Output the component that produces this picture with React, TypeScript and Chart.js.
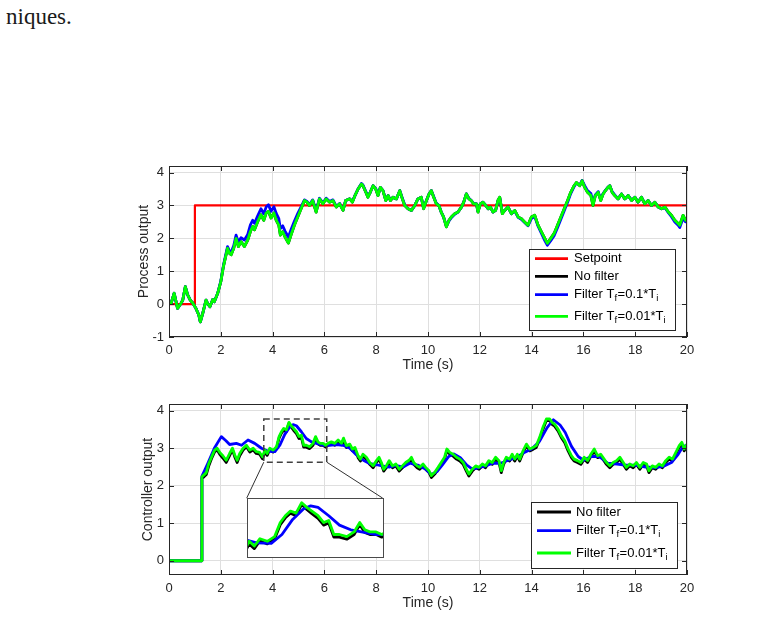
import { useEffect, useRef } from "react";
import { Chart, registerables } from "chart.js";

Chart.register(...registerables);

type Pt = [number, number];
type Seg = [string, boolean]; // text, drawn as subscript

// ---- axes ----
const timeTicks = [0, 2, 4, 6, 8, 10, 12, 14, 16, 18, 20];
const processTicks = [-1, 0, 1, 2, 3, 4];
const controllerTicks = [0, 1, 2, 3, 4];

// ---- process output (t [s], y) ----
const setpoint: Pt[] = [[0, 0], [1, 0], [1, 3], [20, 3]];

const processFast: Pt[] = [
  [0, 0.04], [0.08, 0.02], [0.2, 0.33], [0.33, -0.13], [0.46, 0.02], [0.53, 0.12], [0.63, 0.53], [0.72, 0.28],
  [0.82, 0.12], [0.91, 0.04], [1.04, -0.13], [1.15, -0.33], [1.21, -0.54], [1.3, -0.29], [1.43, 0.12], [1.49, 0.02],
  [1.58, -0.08], [1.69, 0.14], [1.75, 0.07], [1.88, 0.33], [2.0, 0.68], [2.1, 1.14], [2.26, 1.7], [2.33, 1.55],
  [2.4, 1.5], [2.5, 1.7], [2.59, 2.0], [2.68, 1.75], [2.78, 1.9], [2.91, 1.75], [3.04, 1.95], [3.14, 2.2],
  [3.23, 2.36], [3.3, 2.26], [3.42, 2.5], [3.55, 2.72], [3.66, 2.55], [3.75, 2.77], [3.84, 2.82], [3.94, 2.62],
  [4.05, 2.77], [4.14, 2.55], [4.24, 2.4], [4.3, 2.1], [4.39, 2.2], [4.48, 2.04], [4.61, 1.86], [4.71, 2.1],
  [4.84, 2.4], [4.97, 2.65], [5.1, 2.9], [5.23, 3.15], [5.33, 3.1], [5.42, 3.0], [5.55, 3.15], [5.68, 2.8],
  [5.81, 3.2], [5.94, 3.05], [6.07, 3.2], [6.2, 3.1], [6.33, 3.15], [6.46, 2.95], [6.59, 3.05], [6.72, 2.85],
  [6.82, 3.15], [6.98, 3.2], [7.08, 3.1], [7.18, 3.3], [7.3, 3.5], [7.43, 3.65], [7.49, 3.6], [7.6, 3.4],
  [7.68, 3.25], [7.77, 3.4], [7.88, 3.6], [7.98, 3.5], [8.07, 3.3], [8.16, 3.55], [8.26, 3.45], [8.37, 3.15],
  [8.46, 3.3], [8.55, 3.15], [8.65, 3.25], [8.78, 3.2], [8.91, 3.45], [9.01, 3.2], [9.1, 3.0], [9.23, 2.9],
  [9.36, 2.85], [9.49, 3.0], [9.61, 3.2], [9.74, 3.25], [9.83, 2.9], [9.94, 3.15], [10.04, 3.35], [10.13, 3.45],
  [10.22, 3.25], [10.32, 3.05], [10.42, 3.0], [10.51, 2.8], [10.6, 2.65], [10.71, 2.35], [10.81, 2.55], [10.9, 2.65],
  [11.03, 2.75], [11.16, 2.8], [11.29, 2.95], [11.38, 3.1], [11.48, 3.35], [11.58, 3.2], [11.67, 3.15], [11.76, 3.05],
  [11.87, 3.05], [11.93, 2.8], [12.02, 3.05], [12.12, 3.1], [12.23, 3.0], [12.32, 2.9], [12.41, 2.95], [12.51, 2.8],
  [12.61, 2.85], [12.7, 3.15], [12.77, 3.25], [12.87, 2.75], [12.96, 2.85], [13.09, 2.95], [13.22, 2.75], [13.35, 2.85],
  [13.48, 2.65], [13.6, 2.6], [13.73, 2.5], [13.86, 2.4], [13.99, 2.65], [14.12, 2.7], [14.25, 2.4], [14.38, 2.2],
  [14.51, 2.0], [14.61, 1.85], [14.74, 2.0], [14.87, 2.15], [15.0, 2.4], [15.13, 2.65], [15.26, 2.9], [15.39, 3.15],
  [15.51, 3.4], [15.64, 3.6], [15.73, 3.7], [15.86, 3.6], [15.95, 3.75], [16.05, 3.55], [16.16, 3.4], [16.29, 3.3],
  [16.37, 3.0], [16.46, 3.3], [16.57, 3.4], [16.67, 3.15], [16.76, 3.35], [16.85, 3.45], [16.95, 3.55], [17.02, 3.6],
  [17.11, 3.4], [17.21, 3.3], [17.34, 3.2], [17.47, 3.35], [17.6, 3.2], [17.73, 3.3], [17.86, 3.15], [17.99, 3.25],
  [18.11, 3.1], [18.24, 3.25], [18.37, 3.05], [18.5, 3.15], [18.63, 3.0], [18.76, 3.1], [18.89, 2.95], [19.02, 2.9],
  [19.15, 2.95], [19.28, 2.8], [19.4, 2.7], [19.53, 2.55], [19.66, 2.45], [19.72, 2.4], [19.85, 2.7], [19.94, 2.55],
  [20, 2.6],
];

// The unfiltered response runs underneath the Tf = 0.01*Ti response.
const processNoFilter: Pt[] = processFast;

const processMedium: Pt[] = [
  [0, 0.04], [0.08, 0.02], [0.2, 0.33], [0.33, -0.13], [0.46, 0.02], [0.53, 0.12], [0.63, 0.53], [0.72, 0.28],
  [0.82, 0.12], [0.91, 0.04], [1.04, -0.13], [1.15, -0.33], [1.21, -0.54], [1.3, -0.29], [1.43, 0.12], [1.49, 0.02],
  [1.58, -0.08], [1.69, 0.14], [1.75, 0.07], [1.88, 0.33], [2.0, 0.7], [2.1, 1.17], [2.26, 1.75], [2.33, 1.62],
  [2.4, 1.58], [2.5, 1.78], [2.59, 2.1], [2.68, 1.88], [2.78, 2.02], [2.91, 1.95], [3.04, 2.12], [3.14, 2.4],
  [3.23, 2.55], [3.3, 2.46], [3.42, 2.68], [3.55, 2.9], [3.66, 2.75], [3.75, 2.95], [3.84, 3.02], [3.94, 2.82],
  [4.05, 2.96], [4.14, 2.76], [4.24, 2.6], [4.3, 2.3], [4.39, 2.38], [4.48, 2.22], [4.61, 2.04], [4.71, 2.26],
  [4.84, 2.52], [4.97, 2.75], [5.1, 2.96], [5.23, 3.17], [5.33, 3.12], [5.42, 3.02], [5.55, 3.17], [5.68, 2.84],
  [5.81, 3.22], [5.94, 3.08], [6.07, 3.22], [6.2, 3.12], [6.33, 3.17], [6.46, 2.97], [6.59, 3.06], [6.72, 2.87],
  [6.82, 3.15], [6.98, 3.2], [7.08, 3.12], [7.18, 3.3], [7.3, 3.5], [7.43, 3.67], [7.49, 3.62], [7.6, 3.42],
  [7.68, 3.27], [7.77, 3.4], [7.88, 3.6], [7.98, 3.52], [8.07, 3.32], [8.16, 3.55], [8.26, 3.46], [8.37, 3.17],
  [8.46, 3.3], [8.55, 3.16], [8.65, 3.25], [8.78, 3.2], [8.91, 3.45], [9.01, 3.22], [9.1, 3.02], [9.23, 2.9],
  [9.36, 2.85], [9.49, 3.0], [9.61, 3.2], [9.74, 3.25], [9.83, 2.92], [9.94, 3.15], [10.04, 3.35], [10.13, 3.45],
  [10.22, 3.27], [10.32, 3.07], [10.42, 3.0], [10.51, 2.8], [10.6, 2.65], [10.71, 2.37], [10.81, 2.53], [10.9, 2.63],
  [11.03, 2.73], [11.16, 2.8], [11.29, 2.95], [11.38, 3.1], [11.48, 3.35], [11.58, 3.22], [11.67, 3.15], [11.76, 3.06],
  [11.87, 3.05], [11.93, 2.82], [12.02, 3.05], [12.12, 3.1], [12.23, 3.0], [12.32, 2.9], [12.41, 2.95], [12.51, 2.8],
  [12.61, 2.85], [12.7, 3.13], [12.77, 3.23], [12.87, 2.77], [12.96, 2.85], [13.09, 2.95], [13.22, 2.75], [13.35, 2.83],
  [13.48, 2.64], [13.6, 2.58], [13.73, 2.48], [13.86, 2.38], [13.99, 2.6], [14.12, 2.66], [14.25, 2.37], [14.38, 2.15],
  [14.51, 1.93], [14.61, 1.79], [14.74, 1.93], [14.87, 2.08], [15.0, 2.32], [15.13, 2.58], [15.26, 2.84], [15.39, 3.1],
  [15.51, 3.36], [15.64, 3.57], [15.73, 3.68], [15.86, 3.62], [15.95, 3.76], [16.05, 3.6], [16.16, 3.45], [16.29, 3.36],
  [16.37, 3.06], [16.46, 3.32], [16.57, 3.42], [16.67, 3.18], [16.76, 3.36], [16.85, 3.46], [16.95, 3.56], [17.02, 3.6],
  [17.11, 3.42], [17.21, 3.32], [17.34, 3.2], [17.47, 3.35], [17.6, 3.2], [17.73, 3.3], [17.86, 3.16], [17.99, 3.25],
  [18.11, 3.1], [18.24, 3.25], [18.37, 3.06], [18.5, 3.15], [18.63, 3.0], [18.76, 3.1], [18.89, 2.95], [19.02, 2.9],
  [19.15, 2.93], [19.28, 2.78], [19.4, 2.66], [19.53, 2.5], [19.66, 2.4], [19.72, 2.33], [19.85, 2.62], [19.94, 2.5],
  [20, 2.55],
];

// ---- controller output (t [s], u) ----
const controllerFast: Pt[] = [
  [0, 0], [1.27, 0], [1.27, 2.24], [1.35, 2.29], [1.44, 2.35], [1.53, 2.58], [1.64, 2.76], [1.76, 2.95],
  [1.86, 3.0], [1.96, 2.89], [2.08, 2.8], [2.21, 2.68], [2.34, 2.86], [2.45, 3.0], [2.54, 2.82], [2.63, 2.68],
  [2.73, 2.86], [2.86, 3.0], [2.99, 3.08], [3.12, 2.95], [3.25, 3.0], [3.37, 2.91], [3.5, 2.89], [3.61, 2.77],
  [3.7, 2.95], [3.79, 2.86], [3.89, 3.0], [4.02, 2.95], [4.15, 3.04], [4.25, 3.31], [4.34, 3.44], [4.43, 3.53],
  [4.53, 3.49], [4.63, 3.69], [4.72, 3.6], [4.81, 3.53], [4.92, 3.44], [5.02, 3.31], [5.11, 3.35], [5.2, 3.08],
  [5.3, 3.08], [5.43, 3.04], [5.56, 3.13], [5.66, 3.31], [5.75, 3.17], [5.84, 3.13], [5.95, 3.13], [6.05, 3.08],
  [6.14, 3.13], [6.27, 3.17], [6.4, 3.13], [6.53, 3.22], [6.66, 3.13], [6.74, 3.27], [6.85, 3.07], [6.98, 3.11],
  [7.08, 2.98], [7.18, 3.02], [7.3, 2.8], [7.39, 2.71], [7.49, 2.84], [7.62, 2.76], [7.75, 2.62], [7.88, 2.53],
  [8.01, 2.67], [8.11, 2.76], [8.2, 2.62], [8.29, 2.44], [8.39, 2.53], [8.5, 2.67], [8.63, 2.53], [8.76, 2.58],
  [8.89, 2.44], [9.01, 2.53], [9.14, 2.62], [9.27, 2.68], [9.36, 2.76], [9.45, 2.62], [9.58, 2.53], [9.68, 2.49],
  [9.81, 2.58], [9.91, 2.49], [10.04, 2.4], [10.13, 2.27], [10.26, 2.36], [10.39, 2.49], [10.51, 2.62], [10.64, 2.76],
  [10.73, 2.98], [10.84, 2.89], [10.97, 2.84], [11.1, 2.76], [11.23, 2.71], [11.36, 2.62], [11.48, 2.44], [11.58, 2.31],
  [11.71, 2.44], [11.84, 2.53], [11.97, 2.49], [12.1, 2.58], [12.22, 2.53], [12.35, 2.67], [12.48, 2.62], [12.61, 2.76],
  [12.74, 2.67], [12.83, 2.4], [12.92, 2.62], [13.02, 2.76], [13.15, 2.71], [13.25, 2.84], [13.35, 2.71], [13.45, 2.84],
  [13.54, 2.71], [13.67, 2.93], [13.8, 3.11], [13.93, 2.98], [14.05, 3.02], [14.18, 3.07], [14.31, 3.29], [14.44, 3.56],
  [14.57, 3.78], [14.7, 3.78], [14.79, 3.69], [14.89, 3.64], [15.02, 3.51], [15.15, 3.33], [15.28, 3.2], [15.41, 2.98],
  [15.54, 2.8], [15.64, 2.71], [15.77, 2.67], [15.9, 2.62], [16.03, 2.76], [16.16, 2.67], [16.29, 2.84], [16.42, 2.98],
  [16.55, 2.8], [16.67, 2.84], [16.8, 2.71], [16.89, 2.62], [17.02, 2.53], [17.15, 2.62], [17.28, 2.67], [17.41, 2.76],
  [17.54, 2.62], [17.66, 2.49], [17.79, 2.58], [17.92, 2.53], [18.05, 2.62], [18.18, 2.49], [18.31, 2.62], [18.44, 2.58],
  [18.53, 2.4], [18.66, 2.53], [18.79, 2.49], [18.92, 2.58], [19.05, 2.53], [19.18, 2.67], [19.31, 2.76], [19.44, 2.71],
  [19.57, 2.89], [19.7, 3.07], [19.8, 3.16], [19.89, 2.98], [20, 3.11],
];

const controllerNoFilter: Pt[] = [
  [0, 0], [1.27, 0], [1.27, 2.2], [1.35, 2.24], [1.44, 2.3], [1.53, 2.52], [1.64, 2.72], [1.76, 2.9],
  [1.86, 2.96], [1.96, 2.84], [2.08, 2.74], [2.21, 2.62], [2.34, 2.8], [2.45, 2.96], [2.54, 2.77], [2.63, 2.62],
  [2.73, 2.8], [2.86, 2.95], [2.99, 3.04], [3.12, 2.9], [3.25, 2.96], [3.37, 2.86], [3.5, 2.84], [3.61, 2.72],
  [3.7, 2.9], [3.79, 2.81], [3.89, 2.96], [4.02, 2.9], [4.15, 3.0], [4.25, 3.27], [4.34, 3.4], [4.43, 3.49],
  [4.53, 3.44], [4.63, 3.66], [4.72, 3.56], [4.81, 3.48], [4.92, 3.39], [5.02, 3.26], [5.11, 3.3], [5.2, 3.03],
  [5.3, 3.03], [5.43, 2.99], [5.56, 3.08], [5.66, 3.27], [5.75, 3.12], [5.84, 3.08], [5.95, 3.08], [6.05, 3.03],
  [6.14, 3.08], [6.27, 3.12], [6.4, 3.08], [6.53, 3.18], [6.66, 3.09], [6.74, 3.23], [6.85, 3.02], [6.98, 3.06],
  [7.08, 2.93], [7.18, 2.97], [7.3, 2.75], [7.39, 2.66], [7.49, 2.79], [7.62, 2.71], [7.75, 2.57], [7.88, 2.48],
  [8.01, 2.62], [8.11, 2.71], [8.2, 2.57], [8.29, 2.39], [8.39, 2.48], [8.5, 2.62], [8.63, 2.48], [8.76, 2.53],
  [8.89, 2.39], [9.01, 2.48], [9.14, 2.57], [9.27, 2.63], [9.36, 2.71], [9.45, 2.57], [9.58, 2.48], [9.68, 2.44],
  [9.81, 2.53], [9.91, 2.44], [10.04, 2.35], [10.13, 2.22], [10.26, 2.31], [10.39, 2.44], [10.51, 2.57], [10.64, 2.71],
  [10.73, 2.94], [10.84, 2.84], [10.97, 2.79], [11.1, 2.71], [11.23, 2.66], [11.36, 2.57], [11.48, 2.39], [11.58, 2.26],
  [11.71, 2.39], [11.84, 2.48], [11.97, 2.44], [12.1, 2.53], [12.22, 2.48], [12.35, 2.62], [12.48, 2.57], [12.61, 2.71],
  [12.74, 2.62], [12.83, 2.35], [12.92, 2.57], [13.02, 2.71], [13.15, 2.66], [13.25, 2.79], [13.35, 2.66], [13.45, 2.79],
  [13.54, 2.66], [13.67, 2.88], [13.8, 3.06], [13.93, 2.93], [14.05, 2.97], [14.18, 3.02], [14.31, 3.24], [14.44, 3.51],
  [14.57, 3.74], [14.7, 3.74], [14.79, 3.64], [14.89, 3.59], [15.02, 3.46], [15.15, 3.28], [15.28, 3.15], [15.41, 2.93],
  [15.54, 2.75], [15.64, 2.66], [15.77, 2.62], [15.9, 2.57], [16.03, 2.71], [16.16, 2.62], [16.29, 2.79], [16.42, 2.93],
  [16.55, 2.75], [16.67, 2.79], [16.8, 2.66], [16.89, 2.57], [17.02, 2.48], [17.15, 2.57], [17.28, 2.62], [17.41, 2.71],
  [17.54, 2.57], [17.66, 2.44], [17.79, 2.53], [17.92, 2.48], [18.05, 2.57], [18.18, 2.44], [18.31, 2.57], [18.44, 2.53],
  [18.53, 2.35], [18.66, 2.48], [18.79, 2.44], [18.92, 2.53], [19.05, 2.48], [19.18, 2.62], [19.31, 2.71], [19.44, 2.66],
  [19.57, 2.84], [19.7, 3.02], [19.8, 3.11], [19.89, 2.93], [20, 3.06],
];

const controllerMedium: Pt[] = [
  [0, 0], [1.27, 0], [1.27, 2.25], [1.5, 2.6], [1.75, 3.0], [2.02, 3.31], [2.2, 3.2], [2.34, 3.1],
  [2.6, 3.13], [2.8, 3.08], [3.05, 3.22], [3.31, 3.13], [3.57, 3.0], [3.83, 2.92], [4.09, 2.91], [4.28, 3.08],
  [4.47, 3.37], [4.66, 3.57], [4.79, 3.63], [4.92, 3.6], [5.11, 3.44], [5.3, 3.26], [5.5, 3.17], [5.69, 3.13],
  [5.95, 3.08], [6.2, 3.08], [6.46, 3.1], [6.72, 3.08], [6.98, 3.0], [7.24, 2.82], [7.5, 2.68], [7.76, 2.59],
  [8.02, 2.56], [8.27, 2.52], [8.53, 2.5], [8.79, 2.54], [9.04, 2.5], [9.3, 2.6], [9.6, 2.55], [9.9, 2.45],
  [10.13, 2.3], [10.35, 2.38], [10.55, 2.55], [10.8, 2.78], [11.0, 2.85], [11.25, 2.75], [11.5, 2.55], [11.7, 2.45],
  [11.95, 2.48], [12.2, 2.52], [12.5, 2.6], [12.8, 2.6], [13.1, 2.68], [13.4, 2.75], [13.7, 2.88], [14.0, 2.98],
  [14.3, 3.18], [14.6, 3.55], [14.84, 3.76], [15.1, 3.62], [15.3, 3.42], [15.54, 3.05], [15.8, 2.78], [16.0, 2.68],
  [16.3, 2.78], [16.6, 2.78], [16.95, 2.6], [17.3, 2.58], [17.6, 2.55], [18.0, 2.55], [18.4, 2.5], [18.8, 2.48],
  [19.1, 2.52], [19.4, 2.62], [19.66, 2.84], [19.85, 3.05], [20, 3.08],
];

// ---- zoomed detail: the window (t, u) and where its magnified copy sits ----
const zoomWindow = { t0: 3.66, t1: 6.09, u0: 2.63, u1: 3.78 };
const insetPlacement = { t0: 3.0, t1: 8.25, u0: 0.1, u1: 1.67 };

// ---- legend labels ----
const labelSetpoint: Seg[] = [["Setpoint", false]];
const labelNoFilter: Seg[] = [["No filter", false]];
const labelMedium: Seg[] = [["Filter T", false], ["f", true], ["=0.1*T", false], ["i", true]];
const labelFast: Seg[] = [["Filter T", false], ["f", true], ["=0.01*T", false], ["i", true]];

const RED = "#ff0000";
const BLACK = "#000000";
const BLUE = "#0000ff";
const GREEN = "#00ff00";
const INK = "#262626";
const GRID = "#dfdfdf";
const SANS = "'Liberation Sans', Arial, Helvetica, sans-serif";
const LINE_W = 2.8;

Chart.defaults.font.family = SANS;

const xy = (pts: Pt[]) => pts.map(([x, y]) => ({ x, y }));

function series(label: string, pts: Pt[], color: string, order: number, width = LINE_W) {
  return {
    label,
    data: xy(pts),
    borderColor: color,
    backgroundColor: color,
    borderWidth: width,
    pointRadius: 0,
    tension: 0,
    borderJoinStyle: "round" as const,
    borderCapStyle: "round" as const,
    order,
  };
}

type LegendSpec = {
  right: number;
  bottom: number;
  width: number;
  height: number;
  rows: number[];
  lineX0: number;
  lineX1: number;
  textX: number;
  entries: { color: string; segs: Seg[] }[];
};

function drawSegs(ctx: CanvasRenderingContext2D, segs: Seg[], x: number, y: number) {
  let cx = x;
  for (const [text, sub] of segs) {
    ctx.font = sub ? `9.5px ${SANS}` : `13px ${SANS}`;
    ctx.fillText(text, cx, sub ? y + 4 : y);
    cx += ctx.measureText(text).width + (sub ? 0.5 : 0);
  }
}

function framePlugin(legend: LegendSpec, withZoom: boolean) {
  return {
    id: "frame",
    afterDatasetsDraw(chart: any) {
      const { ctx, chartArea: a, scales } = chart;
      const xs = scales.x;
      const ys = scales.y;
      ctx.save();

      // zoom window and its leader lines
      if (withZoom) {
        const zx0 = xs.getPixelForValue(zoomWindow.t0);
        const zx1 = xs.getPixelForValue(zoomWindow.t1);
        const zy0 = ys.getPixelForValue(zoomWindow.u1);
        const zy1 = ys.getPixelForValue(zoomWindow.u0);
        const ix0 = xs.getPixelForValue(insetPlacement.t0);
        const ix1 = xs.getPixelForValue(insetPlacement.t1);
        const iy0 = ys.getPixelForValue(insetPlacement.u1);
        ctx.strokeStyle = "#303030";
        ctx.lineWidth = 1;
        ctx.setLineDash([]);
        ctx.beginPath();
        ctx.moveTo(zx0, zy1);
        ctx.lineTo(ix0, iy0);
        ctx.moveTo(zx1, zy1);
        ctx.lineTo(ix1, iy0);
        ctx.stroke();
        ctx.strokeStyle = "#404040";
        ctx.lineWidth = 1.5;
        ctx.setLineDash([6, 4]);
        ctx.strokeRect(zx0, zy0, zx1 - zx0, zy1 - zy0);
        ctx.setLineDash([]);
      }

      // axes box with inward ticks
      ctx.strokeStyle = INK;
      ctx.lineWidth = 1;
      ctx.strokeRect(a.left + 0.5, a.top + 0.5, a.right - a.left - 1, a.bottom - a.top - 1);
      const tl = 5;
      ctx.beginPath();
      for (const t of xs.ticks) {
        const px = Math.round(xs.getPixelForValue(t.value)) + 0.5;
        ctx.moveTo(px, a.bottom);
        ctx.lineTo(px, a.bottom - tl);
        ctx.moveTo(px, a.top);
        ctx.lineTo(px, a.top + tl);
      }
      for (const t of ys.ticks) {
        const py = Math.round(ys.getPixelForValue(t.value)) + 0.5;
        ctx.moveTo(a.left, py);
        ctx.lineTo(a.left + tl, py);
        ctx.moveTo(a.right, py);
        ctx.lineTo(a.right - tl, py);
      }
      ctx.stroke();

      // legend
      const bx = Math.round(a.right - legend.right - legend.width);
      const by = Math.round(a.bottom - legend.bottom - legend.height);
      ctx.fillStyle = "#ffffff";
      ctx.fillRect(bx, by, legend.width, legend.height);
      ctx.strokeStyle = INK;
      ctx.lineWidth = 1;
      ctx.strokeRect(bx + 0.5, by + 0.5, legend.width, legend.height);
      legend.entries.forEach((e, i) => {
        const y = by + legend.rows[i];
        ctx.strokeStyle = e.color;
        ctx.lineWidth = LINE_W;
        ctx.beginPath();
        ctx.moveTo(bx + legend.lineX0, y);
        ctx.lineTo(bx + legend.lineX1, y);
        ctx.stroke();
        ctx.fillStyle = "#000000";
        ctx.textBaseline = "middle";
        ctx.textAlign = "left";
        drawSegs(ctx, e.segs, bx + legend.textX, y);
      });
      ctx.restore();
    },
  };
}

function axes(yMin: number, yMax: number, yTicks: number[], yTitle: string, yTitlePad: number) {
  return {
    x: {
      type: "linear" as const,
      min: 0,
      max: 20,
      afterBuildTicks: (s: any) => {
        s.ticks = timeTicks.map((value) => ({ value }));
      },
      afterFit: (s: any) => {
        s.height = 43;
      },
      grid: { color: GRID, lineWidth: 1, drawTicks: false },
      border: { display: false },
      ticks: {
        padding: 6,
        color: INK,
        autoSkip: false,
        maxRotation: 0,
        font: { family: SANS, size: 13 },
        callback: (v: any) => String(v),
      },
      title: {
        display: true,
        text: "Time (s)",
        color: INK,
        font: { family: SANS, size: 14 },
        padding: { top: 0, bottom: 6 },
      },
    },
    y: {
      type: "linear" as const,
      min: yMin,
      max: yMax,
      afterBuildTicks: (s: any) => {
        s.ticks = yTicks.map((value) => ({ value }));
      },
      afterFit: (s: any) => {
        s.width = 39;
      },
      grid: { color: GRID, lineWidth: 1, drawTicks: false },
      border: { display: false },
      ticks: {
        padding: 5,
        color: INK,
        autoSkip: false,
        font: { family: SANS, size: 13 },
        callback: (v: any) => String(v),
      },
      title: {
        display: true,
        text: yTitle,
        color: INK,
        font: { family: SANS, size: 14 },
        padding: { top: yTitlePad, bottom: 0 },
      },
    },
  };
}

const baseOptions = {
  responsive: false,
  animation: false as const,
  events: [] as any[],
  plugins: { legend: { display: false }, tooltip: { enabled: false } },
};

export default function App() {
  const topRef = useRef<HTMLCanvasElement>(null);
  const bottomRef = useRef<HTMLCanvasElement>(null);
  const insetBoxRef = useRef<HTMLDivElement>(null);
  const insetRef = useRef<HTMLCanvasElement>(null);

  useEffect(() => {
    const top = new Chart(topRef.current as HTMLCanvasElement, {
      type: "line",
      data: {
        datasets: [
          series("Filter Tf=0.01*Ti", processFast, GREEN, 0),
          series("Filter Tf=0.1*Ti", processMedium, BLUE, 1),
          series("No filter", processNoFilter, BLACK, 2),
          series("Setpoint", setpoint, RED, 3, 2.2),
        ],
      },
      options: {
        ...baseOptions,
        layout: { padding: { left: 130, right: 77, top: 16, bottom: 0 } },
        scales: axes(-1, 4.2, processTicks, "Process output", 5.6),
      } as any,
      plugins: [
        framePlugin(
          {
            right: 12,
            bottom: 7,
            width: 146,
            height: 81,
            rows: [9.7, 27.4, 45.7, 67.4],
            lineX0: 6,
            lineX1: 39,
            textX: 45,
            entries: [
              { color: RED, segs: labelSetpoint },
              { color: BLACK, segs: labelNoFilter },
              { color: BLUE, segs: labelMedium },
              { color: GREEN, segs: labelFast },
            ],
          },
          false
        ),
      ],
    });

    const bottomCanvas = bottomRef.current as HTMLCanvasElement;
    const bottom = new Chart(bottomCanvas, {
      type: "line",
      data: {
        datasets: [
          series("Filter Tf=0.01*Ti", controllerFast, GREEN, 0),
          series("Filter Tf=0.1*Ti", controllerMedium, BLUE, 1),
          series("No filter", controllerNoFilter, BLACK, 2),
        ],
      },
      options: {
        ...baseOptions,
        layout: { padding: { left: 130, right: 77, top: 16, bottom: 0 } },
        scales: axes(-0.38, 4.18, controllerTicks, "Controller output", 9.6),
      } as any,
      plugins: [
        framePlugin(
          {
            right: 10,
            bottom: 7,
            width: 146,
            height: 66,
            rows: [10, 28.7, 51],
            lineX0: 6,
            lineX1: 40,
            textX: 45,
            entries: [
              { color: BLACK, segs: labelNoFilter },
              { color: BLUE, segs: labelMedium },
              { color: GREEN, segs: labelFast },
            ],
          },
          true
        ),
      ],
    });

    // place the magnified view where the leader lines end
    const xs: any = bottom.scales.x;
    const ys: any = bottom.scales.y;
    const left = Math.round(xs.getPixelForValue(insetPlacement.t0));
    const right = Math.round(xs.getPixelForValue(insetPlacement.t1));
    const topPx = Math.round(ys.getPixelForValue(insetPlacement.u1));
    const botPx = Math.round(ys.getPixelForValue(insetPlacement.u0));
    const w = right - left + 1;
    const h = botPx - topPx + 1;
    const box = insetBoxRef.current as HTMLDivElement;
    box.style.left = `${bottomCanvas.offsetLeft + left}px`;
    box.style.top = `${bottomCanvas.offsetTop + topPx}px`;
    box.style.width = `${w}px`;
    box.style.height = `${h}px`;
    const insetCanvas = insetRef.current as HTMLCanvasElement;
    insetCanvas.width = w;
    insetCanvas.height = h;

    const inset = new Chart(insetCanvas, {
      type: "line",
      data: {
        datasets: [
          { ...series("Filter Tf=0.01*Ti", controllerFast, GREEN, 0), clip: 0 },
          { ...series("Filter Tf=0.1*Ti", controllerMedium, BLUE, 1), clip: 0 },
          { ...series("No filter", controllerNoFilter, BLACK, 2), clip: 0 },
        ],
      },
      options: {
        ...baseOptions,
        layout: { padding: 0 },
        scales: {
          x: { type: "linear", display: false, min: zoomWindow.t0, max: zoomWindow.t1 },
          y: { type: "linear", display: false, min: zoomWindow.u0, max: zoomWindow.u1 },
        },
      } as any,
      plugins: [
        {
          id: "insetFrame",
          afterDraw(chart: any) {
            const c = chart.ctx;
            c.save();
            c.strokeStyle = "#4a4a4a";
            c.lineWidth = 1;
            c.strokeRect(0.5, 0.5, chart.width - 1, chart.height - 1);
            c.restore();
          },
        },
      ],
    });

    return () => {
      top.destroy();
      bottom.destroy();
      inset.destroy();
    };
  }, []);

  return (
    <div
      style={{
        position: "absolute",
        left: 0,
        top: 0,
        width: 764,
        height: 619,
        overflow: "hidden",
        background: "#ffffff",
      }}
    >
      <div
        style={{
          position: "absolute",
          left: 6,
          top: 5,
          margin: 0,
          fontFamily: "'Liberation Serif', 'Times New Roman', serif",
          fontSize: 23,
          lineHeight: 1,
          color: "#1a1a1a",
        }}
      >
        niques.
      </div>
      <canvas
        ref={topRef}
        width={764}
        height={230}
        style={{ position: "absolute", left: 0, top: 150, display: "block" }}
      />
      <canvas
        ref={bottomRef}
        width={764}
        height={230}
        style={{ position: "absolute", left: 0, top: 388, display: "block" }}
      />
      <div ref={insetBoxRef} style={{ position: "absolute", background: "#ffffff" }}>
        <canvas ref={insetRef} style={{ display: "block" }} />
      </div>
    </div>
  );
}
